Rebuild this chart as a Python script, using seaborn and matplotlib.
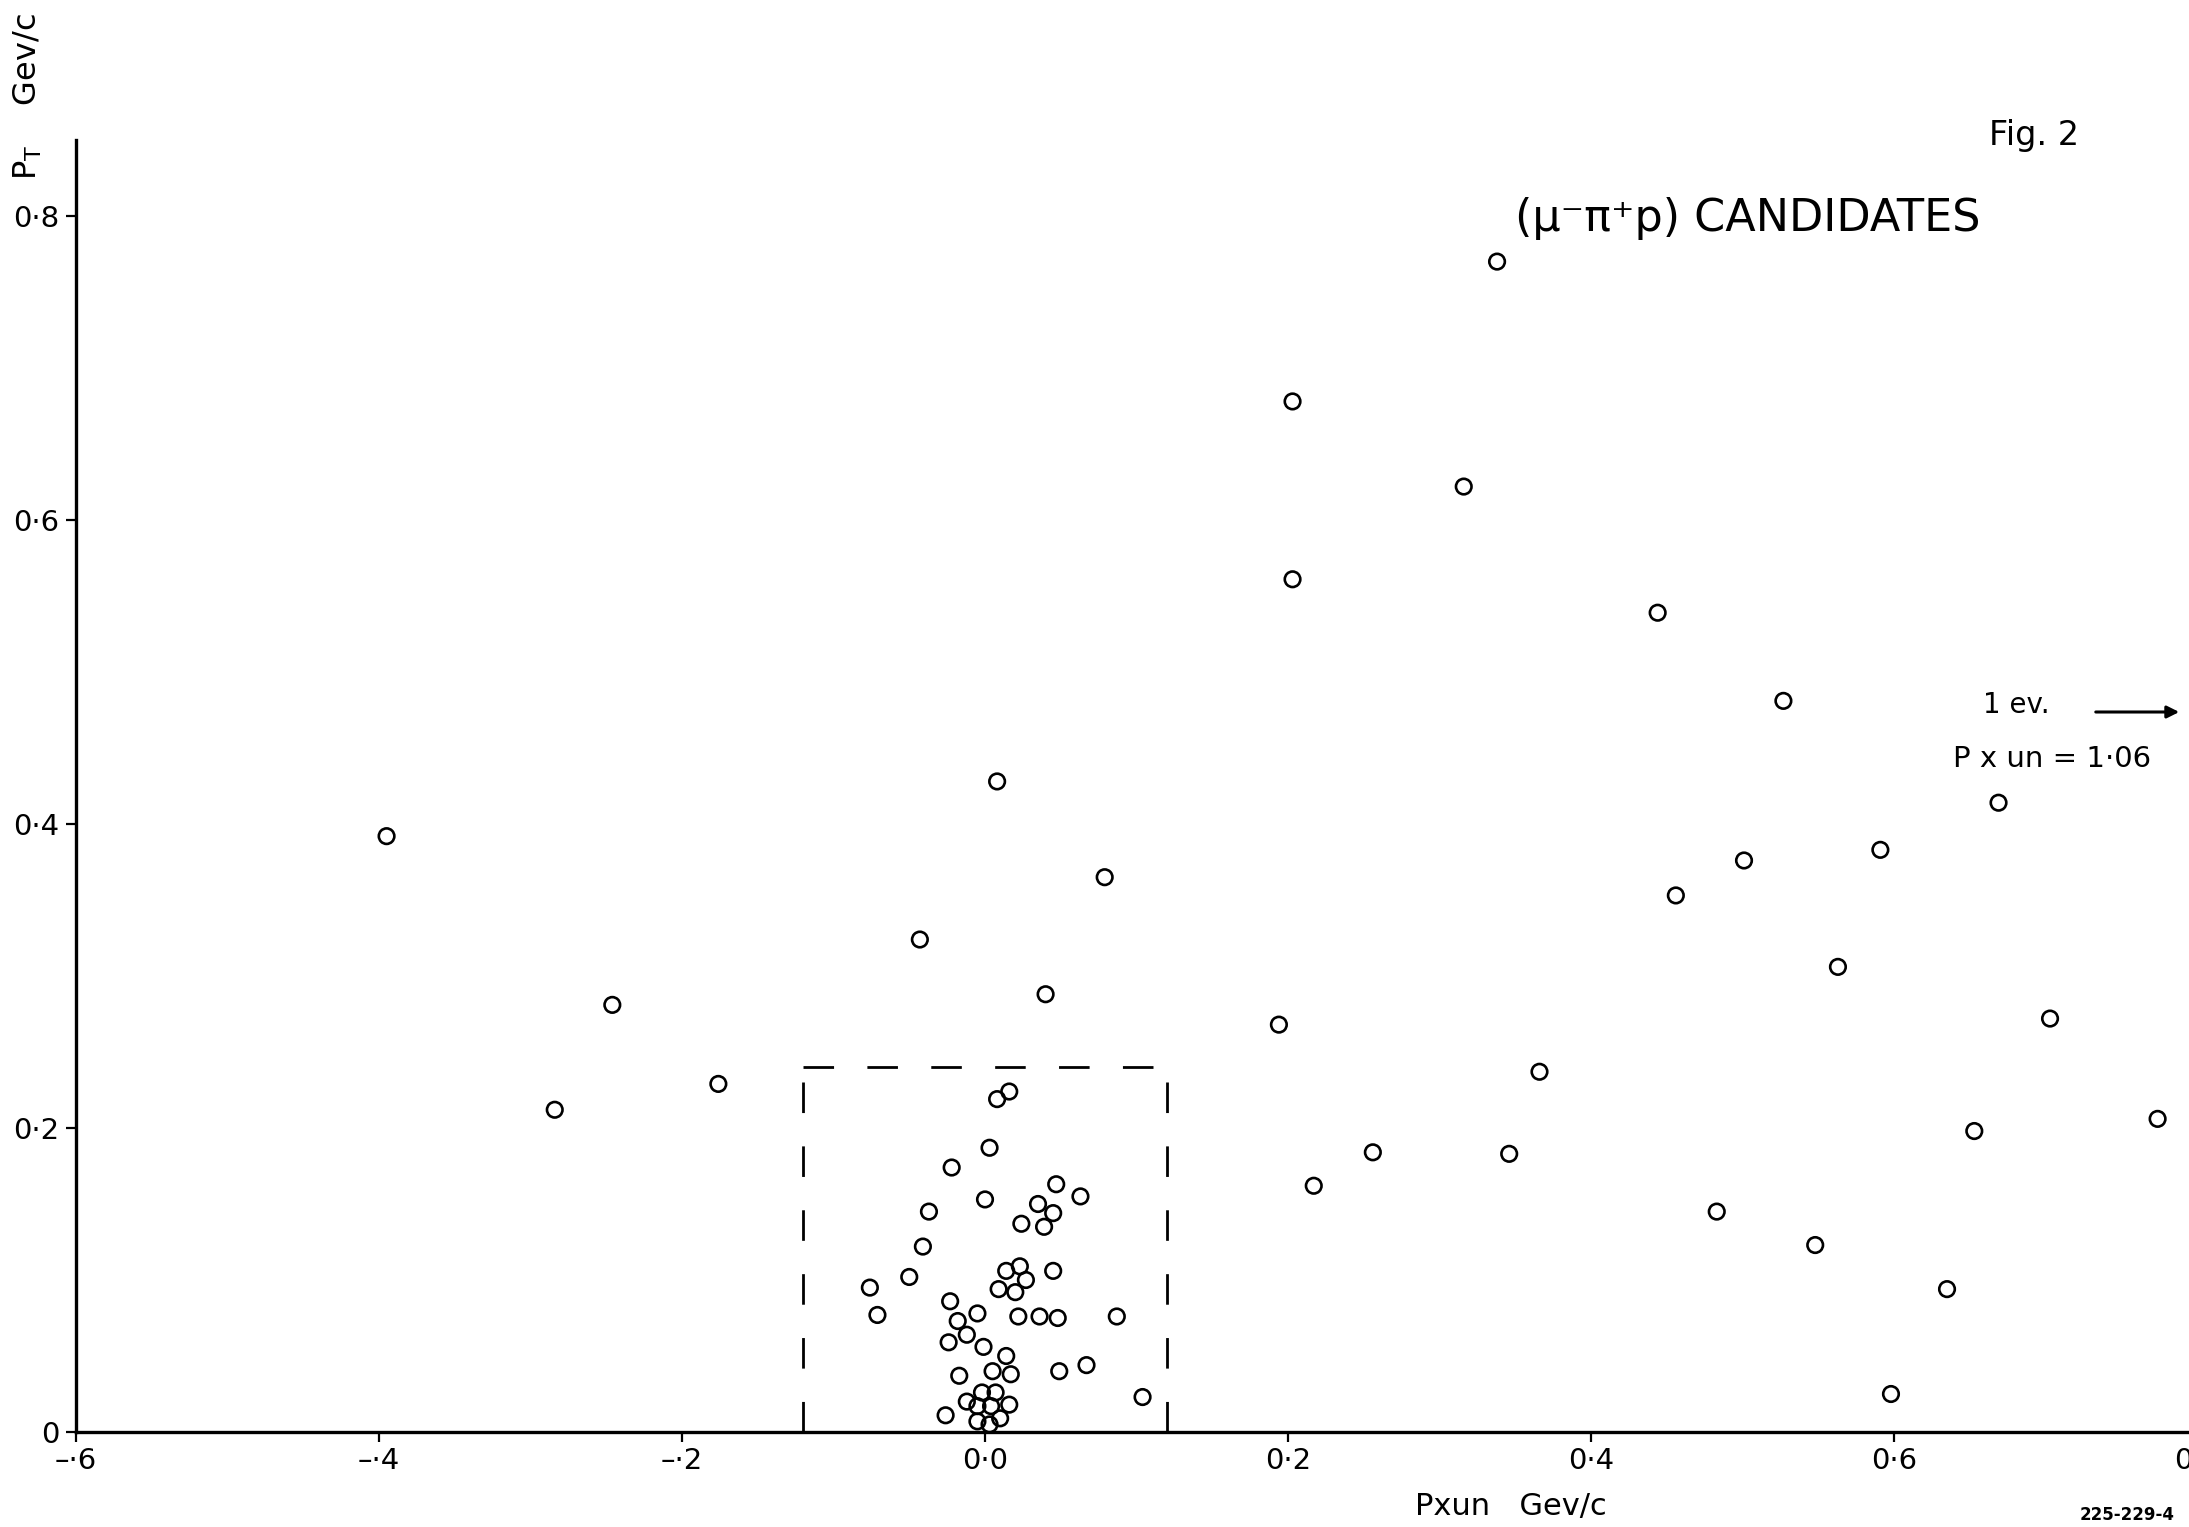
import matplotlib
matplotlib.use("Agg")
import matplotlib.pyplot as plt
import numpy as np
import pandas as pd
import seaborn as sns

# events outside the dashed selection box (Pxun, PT in GeV/c)
pxun_outer = [-0.395, -0.246, -0.284, -0.176, -0.043, 0.008, 0.040, 0.079,
              0.203, 0.203, 0.194, 0.217, 0.256, 0.316, 0.338, 0.366,
              0.346, 0.444, 0.456, 0.483, 0.501, 0.527, 0.548, 0.563,
              0.591, 0.598, 0.635, 0.653, 0.669, 0.703, 0.774]
pt_outer = [0.392, 0.281, 0.212, 0.229, 0.324, 0.428, 0.288, 0.365,
            0.678, 0.561, 0.268, 0.162, 0.184, 0.622, 0.770, 0.237,
            0.183, 0.539, 0.353, 0.145, 0.376, 0.481, 0.123, 0.306,
            0.383, 0.025, 0.094, 0.198, 0.414, 0.272, 0.206]

# events inside the box
pxun_inner = [0.016, 0.008, 0.003, -0.022, 0.047, 0.063, 0.000, 0.035,
              0.045, -0.037, 0.024, 0.039, -0.041, 0.023, 0.014, 0.045,
              0.027, -0.050, -0.076, 0.009, 0.020, -0.023, -0.071, -0.005,
              0.022, 0.036, 0.048, 0.087, -0.018, -0.012, -0.024, -0.001,
              0.014, 0.067, 0.049, 0.005, 0.017, -0.017, 0.104, -0.002,
              0.007, -0.012, -0.005, 0.004, 0.016, -0.026, -0.005, 0.010,
              0.003]
pt_inner = [0.224, 0.219, 0.187, 0.174, 0.163, 0.155, 0.153, 0.150,
            0.144, 0.145, 0.137, 0.135, 0.122, 0.109, 0.106, 0.106,
            0.100, 0.102, 0.095, 0.094, 0.092, 0.086, 0.077, 0.078,
            0.076, 0.076, 0.075, 0.076, 0.073, 0.064, 0.059, 0.056,
            0.050, 0.044, 0.040, 0.040, 0.038, 0.037, 0.023, 0.026,
            0.026, 0.020, 0.017, 0.017, 0.018, 0.011, 0.007, 0.009,
            0.005]

box_x = [-0.12, 0.12]
box_top = 0.24

x_ticks = [-0.6, -0.4, -0.2, 0.0, 0.2, 0.4, 0.6, 0.8]
x_ticklabels = ["–·6", "–·4", "–·2", "0·0", "0·2", "0·4", "0·6", "0·8"]
y_ticks = [0.0, 0.2, 0.4, 0.6, 0.8]
y_ticklabels = ["0", "0·2", "0·4", "0·6", "0·8"]

df = pd.DataFrame({
    "pxun": pxun_outer + pxun_inner,
    "pt": pt_outer + pt_inner,
})

sns.set_theme(style="ticks")
plt.rcParams["font.family"] = ["DejaVu Sans"]
plt.rcParams["mathtext.default"] = "regular"
plt.rcParams["text.color"] = "black"
plt.rcParams["axes.labelcolor"] = "black"

W, H = 2189, 1527
fig = plt.figure(figsize=(W / 100, H / 100), dpi=100)
fig.patch.set_facecolor("white")
ax = fig.add_axes([76 / W, (H - 1432) / H, (2197 - 76) / W, 1292 / H])
ax.set_facecolor("white")

sns.scatterplot(data=df, x="pxun", y="pt", ax=ax, marker="o", s=125,
                facecolor="none", edgecolor="black", linewidth=1.9,
                clip_on=False, zorder=3)

# dashed selection box (three sides, bottom is the axis)
dash = dict(color="black", lw=2.0, linestyle=(0, (11, 12)), zorder=2)
ax.plot([box_x[0], box_x[0]], [0, box_top], **dash)
ax.plot([box_x[1], box_x[1]], [0, box_top], **dash)
ax.plot(box_x, [box_top, box_top], **dash)

ax.set_xlim(-0.6, 0.8)
ax.set_ylim(0, 0.85)
ax.set_xticks(x_ticks)
ax.set_xticklabels(x_ticklabels)
ax.set_yticks(y_ticks)
ax.set_yticklabels(y_ticklabels)
ax.set_xlabel("")
ax.set_ylabel("")
for side in ["top", "right"]:
    ax.spines[side].set_visible(False)
for side in ["left", "bottom"]:
    ax.spines[side].set_linewidth(2.4)
    ax.spines[side].set_color("black")
ax.tick_params(axis="both", labelsize=21, length=7, width=1.6,
               color="black", labelcolor="black")
ax.tick_params(axis="x", pad=4)
ax.tick_params(axis="y", pad=5)

# texts
fig.text(28 / W, 1 - 97 / H, "P$_T$    Gev/c", rotation=90,
         ha="center", va="center", fontsize=23)
fig.text(1511 / W, 1 - 1506 / H, "Pxun   Gev/c", ha="center", va="center",
         fontsize=22)
fig.text(1989 / W, 1 - 135 / H, "Fig. 2", ha="left", va="center",
         fontsize=24)
fig.text(1515 / W, 1 - 219 / H, "(μ⁻π⁺p) CANDIDATES", ha="left",
         va="center", fontsize=32)
fig.text(1983 / W, 1 - 705 / H, "1 ev.", ha="left", va="center",
         fontsize=20)
fig.text(1953 / W, 1 - 759 / H, "P x un = 1·06", ha="left", va="center",
         fontsize=21)
fig.text(2127 / W, 1 - 1515 / H, "225-229-4", ha="center", va="center",
         fontsize=12, fontweight="bold")
ax.annotate("", xy=(2182 / W, 1 - 712 / H), xytext=(2093 / W, 1 - 712 / H),
            xycoords="figure fraction", textcoords="figure fraction",
            arrowprops=dict(arrowstyle="-|>", color="black", lw=2.2,
                            mutation_scale=18))

fig.savefig("out.png", dpi=100, facecolor="white")
plt.close(fig)
